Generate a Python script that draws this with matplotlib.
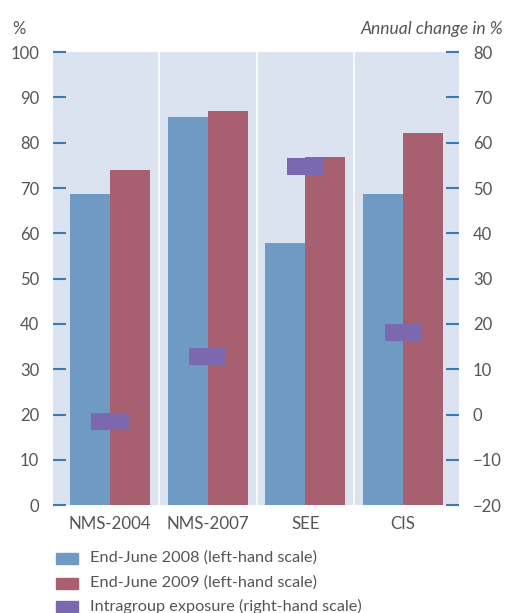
import matplotlib.pyplot as plt
from matplotlib.patches import Rectangle
import numpy as np

plt.rcParams['font.family'] = ['Lato', 'DejaVu Sans']

categories = ['NMS-2004', 'NMS-2007', 'SEE', 'CIS']
june_2008 = [68.7, 85.7, 57.8, 68.7]
june_2009 = [74.0, 87.0, 76.8, 82.1]
intragroup = [-1.6, 12.9, 54.8, 18.0]
labels = ['End-June 2008 (left-hand scale)',
          'End-June 2009 (left-hand scale)',
          'Intragroup exposure (right-hand scale)']

c_blue = '#6f9ac4'
c_red = '#a86070'
c_purple = '#7b68ae'
c_bg = '#dae3ef'
c_tick = '#3a7ab5'
c_text = '#555555'

fig = plt.figure(figsize=(5.05, 6.13), dpi=100)
ax = fig.add_axes([0.105, 0.176, 0.804, 0.739])
ax.set_facecolor(c_bg)

x = np.arange(len(categories))
w = 0.41
ax.bar(x - w / 2, june_2008, w, color=c_blue, zorder=2)
ax.bar(x + w / 2, june_2009, w, color=c_red, zorder=2)
for b in x[:-1] + 0.5:
    ax.axvline(b, color='white', lw=1.2, zorder=1)

ax.set_xlim(-0.583, 3.572)
ax.set_ylim(0, 100)
ax.set_yticks(range(0, 101, 10))
ax.set_xticks(x)
ax.set_xticklabels(categories)
for s in ax.spines.values():
    s.set_visible(False)
ax.tick_params(axis='y', direction='in', length=9.5, width=1.5, color=c_tick,
               labelsize=12, labelcolor=c_text, pad=10)
ax.tick_params(axis='x', length=0, labelsize=12.2, labelcolor=c_text, pad=8)

ax2 = ax.twinx()
ax2.set_ylim(-20, 80)
ax2.set_yticks(range(-20, 81, 10))
h = 3.75
ax2.bar(x, [h] * len(intragroup), 0.38, bottom=np.array(intragroup) - h / 2,
        color=c_purple, zorder=3)
for s in ax2.spines.values():
    s.set_visible(False)
ax2.tick_params(axis='y', direction='in', length=9.5, width=1.5, color=c_tick,
                labelsize=12, labelcolor=c_text, pad=10)

fig.text(0.024, 0.953, '%', fontsize=12, color=c_text, va='center')
fig.text(0.996, 0.953, 'Annual change in %', fontsize=12.6, color=c_text,
         va='center', ha='right', style='italic')

# legend, drawn by hand so the last row can run off the bottom
rows_y = [1 - 558 / 613, 1 - 583 / 613, 1 - 606 / 613]
for yy, col, lab in zip(rows_y, [c_blue, c_red, c_purple], labels):
    fig.add_artist(Rectangle((56 / 505, yy - 5.5 / 613), 22 / 505, 11 / 613,
                             color=col, transform=fig.transFigure))
    fig.text(90 / 505, yy, lab, fontsize=11.7, color=c_text, va='center')

fig.savefig('out.png', dpi=100)
